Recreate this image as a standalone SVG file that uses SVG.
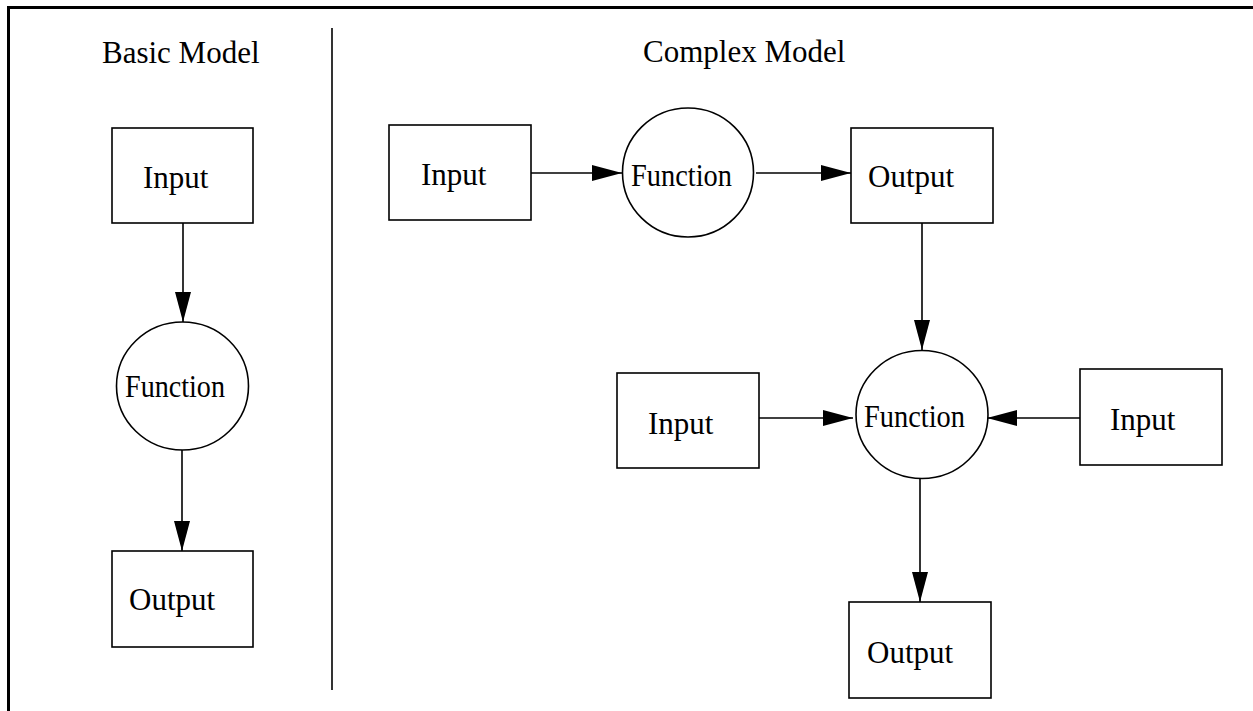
<svg xmlns="http://www.w3.org/2000/svg" width="1253" height="711" viewBox="0 0 1253 711">
<style>
.box{fill:#fff;stroke:#000;stroke-width:1.6}
.fn{fill:#fff;stroke:#000;stroke-width:1.6}
.lbl{font-family:"Liberation Serif","Times New Roman",serif;font-size:31px;fill:#000}
.edge{stroke:#000;stroke-width:1.6;fill:none;marker-end:url(#ah)}
</style>
<defs>
<marker id="ah" markerUnits="userSpaceOnUse" markerWidth="30" markerHeight="16" refX="30" refY="8" orient="auto">
<path d="M0,0 L30,8 L0,16 z" fill="#000"/>
</marker>
</defs>
<rect width="1253" height="711" fill="#fff"/>
<g id="frame" fill="none" stroke="#000">
<path d="M8.5,711 V7.5 H1253" stroke-width="3"/>
<line x1="332" y1="28" x2="332" y2="690" stroke-width="1.6"/>
</g>
<g id="titles">
<text class="lbl" x="102" y="63">Basic Model</text>
<text class="lbl" x="643" y="62">Complex Model</text>
</g>
<g id="connectors">
<line class="edge" x1="183" y1="223" x2="183" y2="322"/>
<line class="edge" x1="182" y1="450" x2="182" y2="551"/>
<line class="edge" x1="531" y1="173" x2="622" y2="173"/>
<line class="edge" x1="756" y1="173" x2="851" y2="173"/>
<line class="edge" x1="922" y1="223" x2="922" y2="350"/>
<line class="edge" x1="759" y1="418" x2="853" y2="418"/>
<line class="edge" x1="1080" y1="418" x2="987" y2="418"/>
<line class="edge" x1="920" y1="478" x2="920" y2="602"/>
</g>
<g id="basic-input">
<rect class="box" x="112" y="128" width="141" height="95"/>
<text class="lbl" x="143" y="188">Input</text>
</g>
<g id="basic-function">
<ellipse class="fn" cx="182.5" cy="386" rx="66" ry="64"/>
<text class="lbl" x="125" y="397" textLength="100" lengthAdjust="spacingAndGlyphs">Function</text>
</g>
<g id="basic-output">
<rect class="box" x="112" y="551" width="141" height="96"/>
<text class="lbl" x="129" y="610">Output</text>
</g>
<g id="complex-input-1">
<rect class="box" x="389" y="125" width="142" height="95"/>
<text class="lbl" x="421" y="185">Input</text>
</g>
<g id="complex-function-1">
<ellipse class="fn" cx="688" cy="172.5" rx="65.5" ry="64.5"/>
<text class="lbl" x="631" y="186" textLength="101" lengthAdjust="spacingAndGlyphs">Function</text>
</g>
<g id="complex-output-1">
<rect class="box" x="851" y="128" width="142" height="95"/>
<text class="lbl" x="868" y="187">Output</text>
</g>
<g id="complex-input-2">
<rect class="box" x="617" y="373" width="142" height="95"/>
<text class="lbl" x="648" y="434">Input</text>
</g>
<g id="complex-function-2">
<ellipse class="fn" cx="922" cy="414.5" rx="66" ry="64"/>
<text class="lbl" x="864" y="427" textLength="101" lengthAdjust="spacingAndGlyphs">Function</text>
</g>
<g id="complex-input-3">
<rect class="box" x="1080" y="369" width="142" height="96"/>
<text class="lbl" x="1110" y="430">Input</text>
</g>
<g id="complex-output-2">
<rect class="box" x="849" y="602" width="142" height="96"/>
<text class="lbl" x="867" y="663">Output</text>
</g>
</svg>
